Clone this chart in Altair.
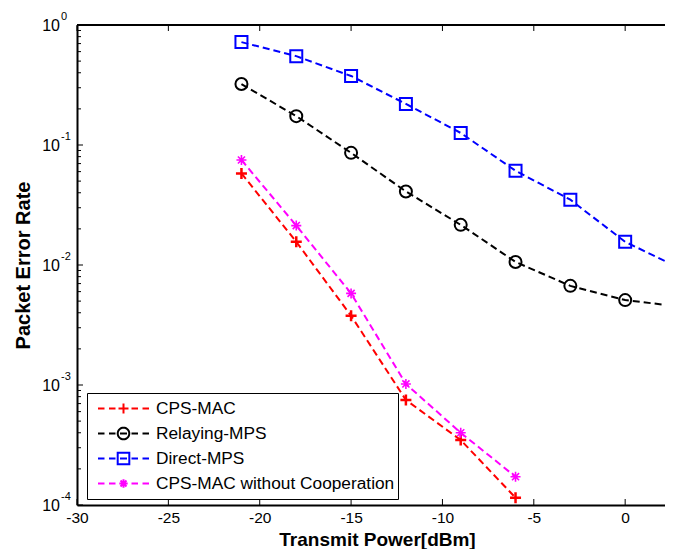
import math
import altair as alt
import pandas as pd

# ---------------- data ----------------
series_names = ["CPS-MAC", "Relaying-MPS", "Direct-MPS", "CPS-MAC without Cooperation"]
series_colors = ["#ff0000", "#000000", "#0000ff", "#ff00ff"]

power_long = [-21, -18, -15, -12, -9, -6, -3, 0, 3]
power_short = [-21, -18, -15, -12, -9, -6]

per_cps_mac = [0.058, 0.0156, 0.00378, 0.00075, 0.000348, 0.000115]
per_relaying = [0.322, 0.174, 0.086, 0.041, 0.0216, 0.0106, 0.0067, 0.0051, 0.0045]
per_direct = [0.72, 0.55, 0.376, 0.22, 0.126, 0.061, 0.035, 0.0156, 0.0094]
per_cps_nocoop = [0.075, 0.0213, 0.0058, 0.00102, 0.0004, 0.000172]

x_ticks = [-30, -25, -20, -15, -10, -5, 0]
y_major = [1e-4, 1e-3, 1e-2, 1e-1, 1.0]
y_exponents = ["-4", "-3", "-2", "-1", "0"]
minor_mantissas = [2, 3, 4, 5, 6, 7, 8, 9]

# ---------------- layout / style ----------------
W, H = 588, 480
FONT = "Liberation Sans"

x_scale = alt.Scale(domain=[-30, 2.18], nice=False, zero=False)
y_scale = alt.Scale(type="log", domain=[1e-4, 1.0], nice=False)

x_axis = alt.Axis(values=x_ticks, ticks=False, tickSize=0, grid=False,
                  labelPadding=5, labelFontSize=15.5, labelFont=FONT, labelColor="black",
                  labelExpr="datum.value + ''", labelFlush=False, labelOverlap=False,
                  title="Transmit Power[dBm]", titleFont=FONT, titleFontSize=19,
                  titleFontWeight="bold", titleColor="black",
                  titleX=300, titleY=40, titleAlign="center", titleBaseline="alphabetic",
                  domainColor="black", domainWidth=2)
y_axis = alt.Axis(labels=False, ticks=False, tickSize=0, grid=False,
                  title="Packet Error Rate", titleFont=FONT, titleFontSize=20,
                  titleFontWeight="bold", titleColor="black",
                  titleX=-48, titleY=240, titleAngle=270, titleAlign="center",
                  titleBaseline="alphabetic",
                  domainColor="black", domainWidth=2)

X = alt.X("x:Q", scale=x_scale, axis=x_axis)
Y = alt.Y("y:Q", scale=y_scale, axis=y_axis)

# marker shapes (unit paths, scaled by sqrt(size)/2)
PLUS = "M-1,0H1M0,-1V1"
SQUARE = "M-1,-1H1V1H-1Z"
ASTER = "M-1,0H1M0,-1V1M-0.71,-0.71L0.71,0.71M-0.71,0.71L0.71,-0.71"

main_shapes = [PLUS, "circle", SQUARE, ASTER]
main_sizes = [121, 144, 144, 100]
main_stroke = [2.5, 2, 2, 1.6]

# legend symbols: dashed line + marker in one path
LEG_HALF = 25.5


def u(px):
    return f"{px / LEG_HALF:.4f}"


dash_segments = [(-25.5, -19.0), (-14.5, -8.0), (-3.5, 3.5), (8.0, 14.5), (19.0, 25.5)]
dash_path = "".join(f"M{u(a)},0H{u(b)}" for a, b in dash_segments)


def circle_path(r_px, n=28):
    pts = []
    for i in range(n):
        t = 2 * math.pi * i / n
        pts.append(f"{u(r_px * math.cos(t))},{u(r_px * math.sin(t))}")
    return "M" + "L".join(pts) + "Z"


leg_plus = dash_path + f"M{u(-5)},0H{u(5)}M0,{u(-5)}V{u(5)}"
leg_circle = dash_path + circle_path(5.8)
leg_square = dash_path + f"M{u(-5.8)},{u(-5.8)}H{u(5.8)}V{u(5.8)}H{u(-5.8)}Z"
h = 4.2
d = 3.0
leg_aster = dash_path + (f"M{u(-h)},0H{u(h)}M0,{u(-h)}V{u(h)}"
                         f"M{u(-d)},{u(-d)}L{u(d)},{u(d)}M{u(-d)},{u(d)}L{u(d)},{u(-d)}")
legend_paths = [leg_plus, leg_circle, leg_square, leg_aster]

# ---------------- tables ----------------
frames = []
for name, xs, ys in [
    (series_names[0], power_short, per_cps_mac),
    (series_names[1], power_long, per_relaying),
    (series_names[2], power_long, per_direct),
    (series_names[3], power_short, per_cps_nocoop),
]:
    frames.append(pd.DataFrame({"x": xs, "y": ys, "series": name}))
df = pd.concat(frames, ignore_index=True)

xt_df = pd.DataFrame({"x": x_ticks})
ymaj_df = pd.DataFrame({"y": y_major, "exp": y_exponents})
ymin_df = pd.DataFrame({"y": [m * 10.0 ** e for e in range(-4, 0) for m in minor_mantissas]})
one_df = pd.DataFrame({"x": [0]})

layers = []

# frame: top border line
layers.append(alt.Chart(one_df).mark_rule(color="black", strokeWidth=2).encode(
    x=alt.value(0), x2=alt.value(W), y=alt.value(0)))

# inward ticks
layers.append(alt.Chart(xt_df).mark_rule(color="black", strokeWidth=1).encode(
    x=X, y=alt.value(H), y2=alt.value(H - 6)))
layers.append(alt.Chart(xt_df).mark_rule(color="black", strokeWidth=1).encode(
    x=X, y=alt.value(0), y2=alt.value(6)))
layers.append(alt.Chart(ymaj_df).mark_rule(color="black", strokeWidth=1).encode(
    y=Y, x=alt.value(0), x2=alt.value(6)))
layers.append(alt.Chart(ymin_df).mark_rule(color="black", strokeWidth=1).encode(
    y=Y, x=alt.value(0), x2=alt.value(4)))

# y tick labels 10^k
layers.append(alt.Chart(ymaj_df).mark_text(align="right", baseline="middle", fontSize=16,
                                           font=FONT, color="black", dy=1).encode(
    y=Y, x=alt.value(-17), text=alt.value("10")))
layers.append(alt.Chart(ymaj_df).mark_text(align="left", baseline="middle", fontSize=11,
                                           font=FONT, color="black", dy=-8).encode(
    y=Y, x=alt.value(-16), text="exp:N"))

# series: dashed lines + markers
for i, name in enumerate(series_names):
    sub = alt.Chart(df).transform_filter(alt.datum.series == name)
    layers.append(sub.mark_line(color=series_colors[i], strokeWidth=2, strokeDash=[7, 4],
                                clip=True).encode(x=X, y=Y))
    layers.append(sub.mark_point(shape=main_shapes[i], size=main_sizes[i], filled=False,
                                 color=series_colors[i], strokeWidth=main_stroke[i],
                                 opacity=1, clip=True).encode(x=X, y=Y))

# legend (no visible marks; only drives the legend)
leg = alt.Legend(title=None, orient="none", legendX=10, legendY=368, direction="vertical",
                 fillColor="white", strokeColor="black", padding=3, cornerRadius=0,
                 symbolOffset=7, symbolSize=2601, symbolStrokeWidth=2,
                 symbolFillColor="transparent", symbolOpacity=1,
                 labelFont=FONT, labelFontSize=17.3, labelColor="black", labelOffset=6,
                 labelLimit=400, clipHeight=25, rowPadding=0)
layers.append(alt.Chart(df).transform_filter("false").mark_point(
    filled=False, size=2601, strokeWidth=2, opacity=1).encode(
    x=X, y=Y,
    color=alt.Color("series:N", scale=alt.Scale(domain=series_names, range=series_colors),
                    legend=leg),
    shape=alt.Shape("series:N", scale=alt.Scale(domain=series_names, range=legend_paths),
                    legend=leg)))

chart = alt.layer(*layers).properties(
    width=W, height=H,
    padding={"left": 69, "top": 17, "right": 0, "bottom": 44},
    autosize=alt.AutoSizeParams(type="none"),
    background="white",
).configure_view(stroke=None)

chart.save("out.html", embed_options={"renderer": "svg", "actions": False})
